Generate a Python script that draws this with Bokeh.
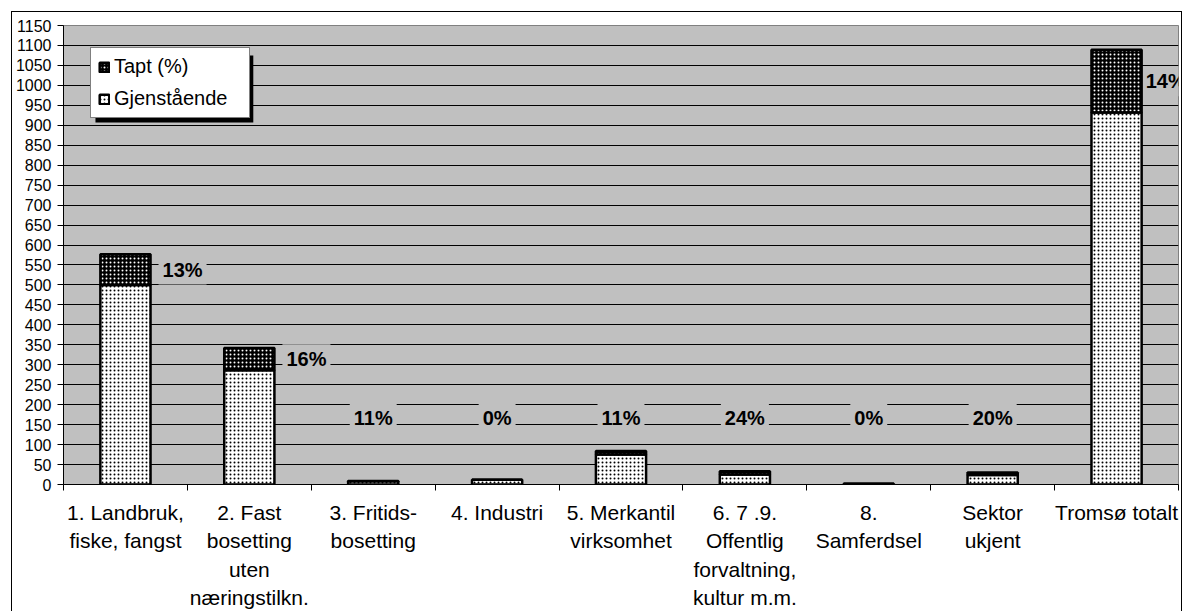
from bokeh.plotting import figure
from bokeh.models import (Range1d, FixedTicker, Legend, LegendItem, ColumnDataSource,
                          BoxAnnotation)
from bokeh.core.properties import value
from bokeh.embed import file_html
from bokeh.resources import INLINE

# ---------------- data ----------------
categories = [
    "1. Landbruk,\nfiske, fangst",
    "2. Fast\nbosetting\nuten\nnæringstilkn.",
    "3. Fritids-\nbosetting",
    "4. Industri",
    "5. Merkantil\nvirksomhet",
    "6. 7 .9.\nOffentlig\nforvaltning,\nkultur m.m.",
    "8.\nSamferdsel",
    "Sektor\nukjent",
    "Tromsø totalt",
]
gjenstaaende = [500, 286, 8, 12, 75, 25, 2, 24, 932]
tapt = [77, 56, 1, 0, 9, 8, 0, 6, 157]
tapt_pct_labels = ["13%", "16%", "11%", "0%", "11%", "24%", "0%", "20%", "14%"]
y_ticks = list(range(0, 1151, 50))

# ---------------- layout constants ----------------
FONT = "Liberation Sans"
PLOT_BG = "#C0C0C0"
BAR_W = 0.405
SMALL_LABEL_LEVEL = 167

n = len(categories)
xs = [i + 0.5 for i in range(n)]
totals = [g + t for g, t in zip(gjenstaaende, tapt)]

src = ColumnDataSource(dict(x=xs, g=gjenstaaende, t=tapt, total=totals))

p = figure(width=1171, height=600, output_backend="svg", toolbar_location=None,
           x_range=Range1d(0, n), y_range=Range1d(0, 1150),
           min_border_left=50, min_border_right=5, min_border_top=13, min_border_bottom=128,
           margin=(11, 0, 0, 11),
           styles={"border-left": "1px solid black", "border-top": "1px solid black",
                   "border-right": "1px solid black"})

p.background_fill_color = PLOT_BG
p.border_fill_color = "white"
p.outline_line_color = "#808080"
p.outline_line_width = 1

# grid
p.xgrid.visible = False
p.ygrid.ticker = FixedTicker(ticks=y_ticks[1:-1])
p.ygrid.grid_line_color = "black"
p.ygrid.grid_line_width = 1

# percentage labels (drawn first: their plot-area coloured boxes hide gridlines,
# while the bars are drawn on top of them)
big = [i for i in range(n) if totals[i] >= 200]
small = [i for i in range(n) if totals[i] < 200]
big_src = ColumnDataSource(dict(
    x=[xs[i] + BAR_W / 2 for i in big],
    y=[gjenstaaende[i] + tapt[i] / 2 for i in big],
    xo=[0 if i == n - 1 else 8 for i in big],
    text=[tapt_pct_labels[i] for i in big]))
small_src = ColumnDataSource(dict(
    x=[xs[i] for i in small],
    y=[SMALL_LABEL_LEVEL for i in small],
    text=[tapt_pct_labels[i] for i in small]))

lbl_common = dict(text_font=value(FONT), text_font_size="20px", text_font_style="bold",
                  text_color="black", text_baseline="middle",
                  background_fill_color=PLOT_BG, padding=4)
p.text(x="x", y="y", text="text", x_offset="xo", source=big_src,
       text_align="left", **lbl_common)
p.text(x="x", y="y", text="text", source=small_src,
       text_align="center", **lbl_common)

# bars
r_g = p.vbar(x="x", width=BAR_W, bottom=0, top="g", source=src,
             fill_color="white", hatch_pattern="dot", hatch_color="black",
             hatch_scale=4, hatch_weight=1.2,
             line_color="black", line_width=2.5)
r_t = p.vbar(x="x", width=BAR_W, bottom="g", top="total", source=src,
             fill_color="black", hatch_pattern="dot", hatch_color="white",
             hatch_scale=4, hatch_weight=1.2,
             line_color="black", line_width=2.5)

# y axis
ya = p.yaxis[0]
ya.ticker = FixedTicker(ticks=y_ticks)
ya.axis_line_color = "black"
ya.major_tick_out = 6
ya.major_tick_in = 0
ya.minor_tick_line_color = None
ya.major_label_standoff = 6
ya.major_label_text_font = FONT
ya.major_label_text_font_size = "16px"
ya.major_label_text_color = "black"

# x axis
xa = p.xaxis[0]
xa.ticker = FixedTicker(ticks=xs, minor_ticks=list(range(n + 1)))
xa.major_label_overrides = {x: c for x, c in zip(xs, categories)}
xa.axis_line_color = "black"
xa.major_tick_line_color = None
xa.major_tick_out = 0
xa.major_tick_in = 0
xa.minor_tick_line_color = "black"
xa.minor_tick_out = 6
xa.minor_tick_in = 0
xa.major_label_standoff = 10
xa.major_label_text_font = FONT
xa.major_label_text_font_size = "21px"
xa.major_label_text_line_height = 1.24
xa.major_label_text_color = "black"

# legend shadow + legend
shadow = BoxAnnotation(left=0.258, right=1.532, top=1075, bottom=907,
                       fill_color="black", fill_alpha=1, line_color=None)
p.add_layout(shadow)

legend = Legend(items=[LegendItem(label="Tapt (%)", renderers=[r_t]),
                       LegendItem(label="Gjenstående", renderers=[r_g])],
                location=(27, 366), margin=0, padding=7, spacing=9,
                glyph_width=12, glyph_height=12, label_standoff=4,
                label_width=128, label_height=20,
                label_text_font=FONT, label_text_font_size="20px",
                label_text_color="black",
                border_line_color="black", border_line_width=1,
                background_fill_color="white", background_fill_alpha=1)
p.add_layout(legend)

open("out.html", "w").write(file_html(p, INLINE))
